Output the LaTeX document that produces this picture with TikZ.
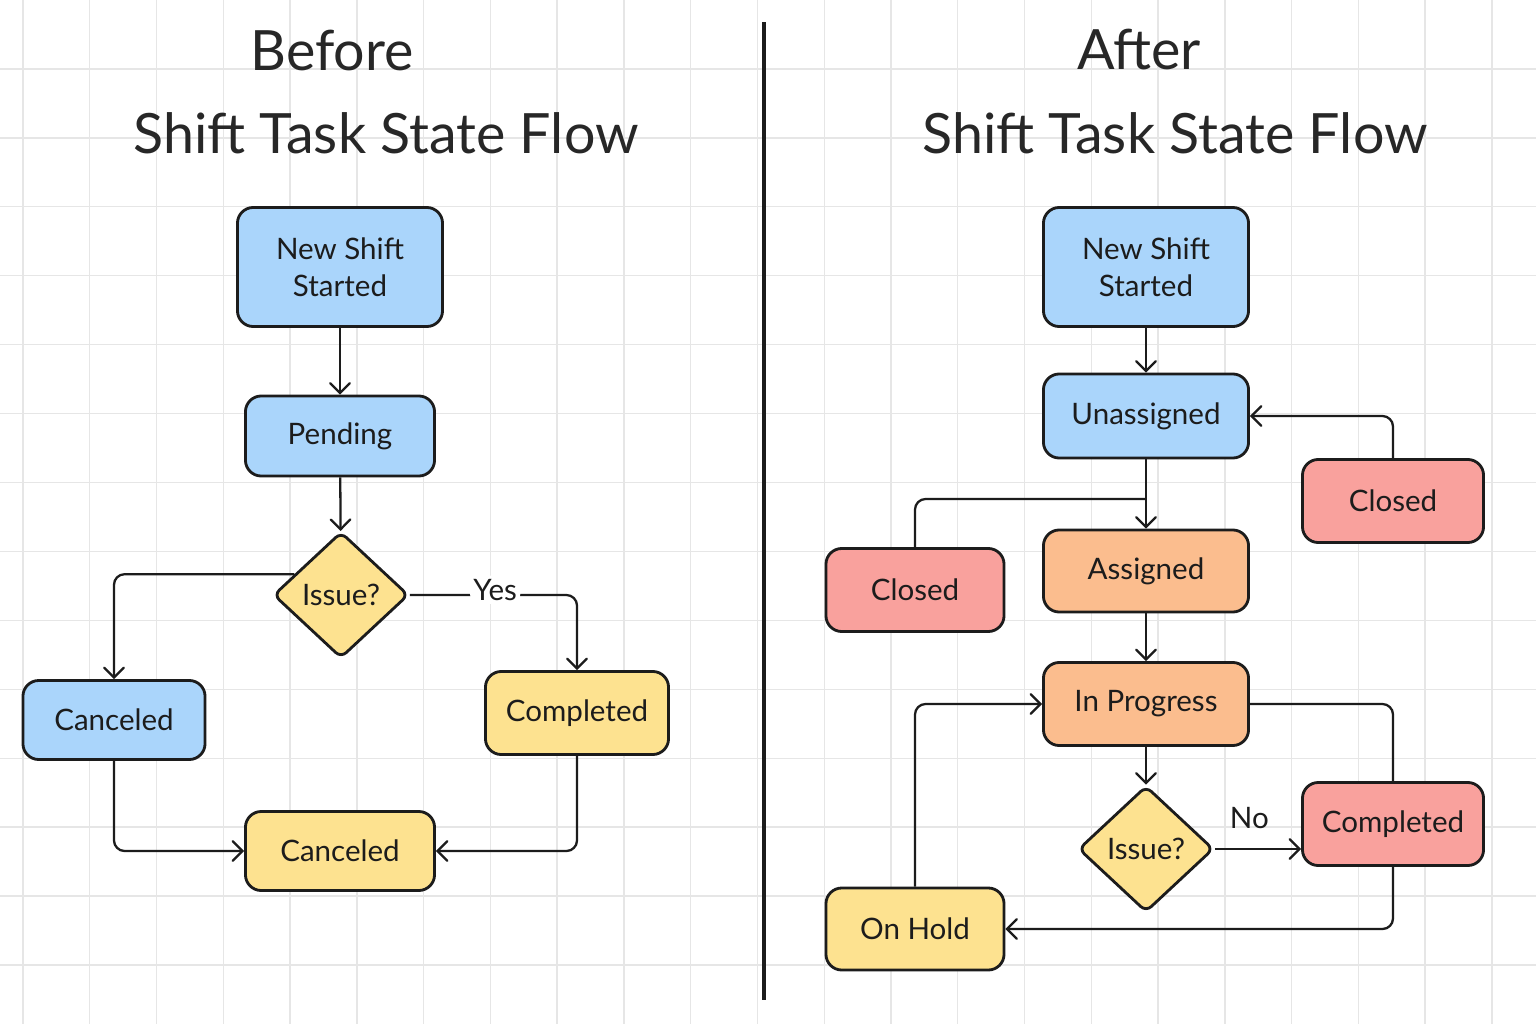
\documentclass[tikz,border=0pt]{standalone}
\usepackage{fontspec}
\setmainfont{Lato}
\usetikzlibrary{arrows,positioning,shapes.geometric}
\definecolor{ink}{HTML}{1C1C1C}
\definecolor{gridgray}{HTML}{E6E6E6}
\definecolor{stBlue}{HTML}{AAD5FB}
\definecolor{stYellow}{HTML}{FDE290}
\definecolor{stOrange}{HTML}{FBBD8E}
\definecolor{stRed}{HTML}{F9A19D}

\begin{document}
\begin{tikzpicture}[x=0.01cm, y=-0.01cm,
	every node/.style = {align=center, text=ink, font=\fontsize{8.4}{10.4}\selectfont},
	State/.style = {draw=ink, line width=0.8pt, rounded corners=4.5pt, fill=#1,
		minimum width=1.82cm, minimum height=0.82cm},
	Wide/.style = {minimum width=2.05cm},
	Ask/.style = {diamond, draw=ink, line width=0.8pt, rounded corners=2pt, fill=stYellow,
		minimum width=1.35cm, minimum height=1.26cm, inner sep=0pt},
	Title/.style = {font=\fontsize{15.8}{19}\selectfont, text=ink!95},
	Conn/.style = {draw=ink, line width=0.65pt, rounded corners=3pt},
	Line/.style = {Conn, -angle 90},
	Grid/.style = {draw=gridgray, line width=0.4pt}
]
\useasboundingbox[fill=white] (0,0) rectangle (1536,1024);
% background grid
\foreach \x in {0,...,22}
	\draw[Grid] ({23+66.77*\x},0) -- ++(0,1024);
\foreach \y in {1,...,14}
	\draw[Grid] (0,{68.93*\y}) -- ++(1536,0);

% divider
\draw[ink, line width=1.3pt] (764,22) -- (764,1000);

% titles
\node[Title] (headL) at (332,50)  {Before};
\node[Title] (flowL) at (386,133) {Shift Task State Flow};
\node[Title] (headR) at (1139,50) {After};
\node[Title] (flowR) at (1175,133) {Shift Task State Flow};

% before
\node[State=stBlue, Wide, minimum height=1.19cm] (newL) at (340,267) {New Shift\\Started};
\node[State=stBlue, minimum width=1.89cm, minimum height=0.80cm] (pendL) at (340,436) {Pending};
\node[Ask] (issueL) at (341,595) {Issue?};
\node[State=stBlue, minimum height=0.79cm] (cancB) at (114,720) {Canceled};
\node[State=stYellow, minimum width=1.83cm, minimum height=0.83cm] (compL) at (577,713) {Completed};
\node[State=stYellow, minimum width=1.89cm, minimum height=0.79cm] (cancY) at (340,851) {Canceled};

\draw[Line] (newL) -- (pendL);
\draw[Line] (pendL) -- (issueL);
\draw[Line] (issueL.156) -| (cancB);
\draw[Line] (issueL.east) -| node[pos=0.255, fill=white, inner sep=1pt, yshift=1.5pt] {Yes} (compL);
\draw[Line] (cancB) |- (cancY);
\draw[Line] (compL) |- (cancY);

% after
\node[State=stBlue, Wide, minimum height=1.19cm] (newR) at (1146,267) {New Shift\\Started};
\node[State=stBlue, Wide, minimum height=0.84cm] (unasR) at (1146,416) {Unassigned};
\node[State=stRed, minimum width=1.81cm, minimum height=0.83cm] (closR) at (1393,501) {Closed};
\node[State=stRed, minimum width=1.78cm, minimum height=0.83cm] (closL) at (915,590) {Closed};
\node[State=stOrange, Wide] (asgnR) at (1146,571) {Assigned};
\node[State=stOrange, Wide, minimum height=0.83cm] (progR) at (1146,704) {In Progress};
\node[Ask] (issueR) at (1146,849) {Issue?};
\node[State=stRed, minimum width=1.81cm, minimum height=0.83cm] (compR) at (1393,824) {Completed};
\node[State=stYellow, minimum width=1.78cm] (holdR) at (915,929) {On Hold};
\coordinate (merge) at (1146,499);

\draw[Line] (newR) -- (unasR);
\draw[Line] (unasR) -- (asgnR);
\draw[Conn] (closL) |- (merge);
\draw[Line] (closR) |- (unasR);
\draw[Line] (asgnR) -- (progR);
\draw[Line] (progR) -- (issueR);
\draw[Line] (issueR.east) -- node[above=2pt, pos=0.4] {No} (compR.west |- issueR.east);
\draw[Conn] (progR) -| (compR);
\draw[Line] (compR) |- (holdR);
\draw[Line] (holdR) |- (progR);
\end{tikzpicture}
\end{document}
